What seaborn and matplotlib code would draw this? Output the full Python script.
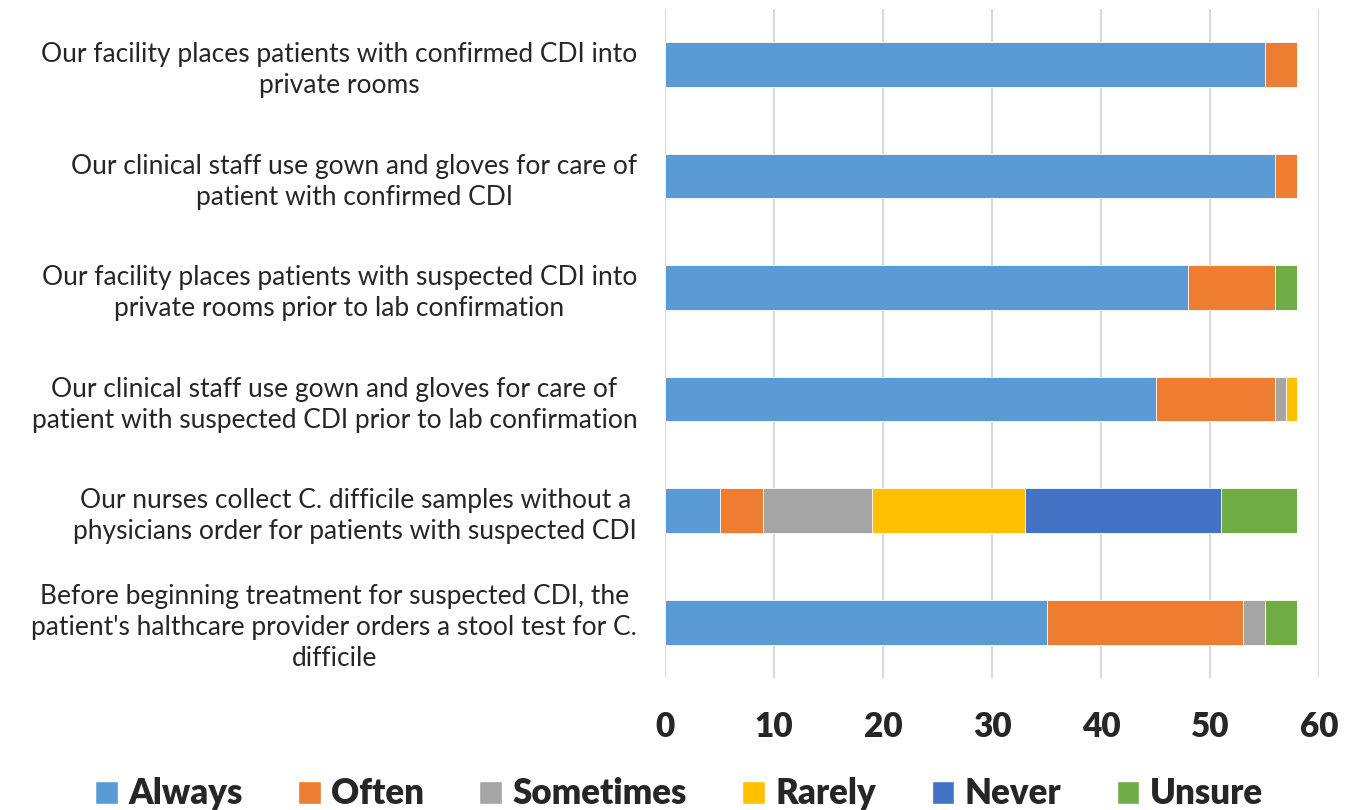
import numpy as np
import pandas as pd
import seaborn as sns
import matplotlib.pyplot as plt
from matplotlib.patches import Patch

categories = [
    "Our facility places patients with confirmed CDI into\nprivate rooms",
    "Our clinical staff use gown and gloves for care of\npatient with confirmed CDI",
    "Our facility places patients with suspected CDI into\nprivate rooms prior to lab confirmation",
    "Our clinical staff use gown and gloves for care of\npatient with suspected CDI prior to lab confirmation",
    "Our nurses collect C. difficile samples without a\nphysicians order for patients with suspected CDI",
    "Before beginning treatment for suspected CDI, the\npatient's halthcare provider orders a stool test for C.\ndifficile",
]
always = [55, 56, 48, 45, 5, 35]
often = [3, 2, 8, 11, 4, 18]
sometimes = [0, 0, 0, 1, 10, 2]
rarely = [0, 0, 0, 1, 14, 0]
never = [0, 0, 0, 0, 18, 0]
unsure = [0, 0, 2, 0, 7, 3]

series = ["Always", "Often", "Sometimes", "Rarely", "Never", "Unsure"]
colors = ["#5B9BD5", "#ED7D31", "#A5A5A5", "#FFC000", "#4472C4", "#70AD47"]

sns.set_theme(style="white")
plt.rcParams['font.family'] = ['Lato', 'DejaVu Sans']

df = pd.DataFrame({"cat": categories, "Always": always, "Often": often,
                   "Sometimes": sometimes, "Rarely": rarely, "Never": never,
                   "Unsure": unsure})
cum = df[series].cumsum(axis=1)

fig = plt.figure(figsize=(13.58, 8.10), dpi=100)
ax = fig.add_axes([0.4897, 0.163, 0.4816, 0.826])

# draw cumulative totals back to front so the segments stack
for s, c in reversed(list(zip(series, colors))):
    sns.barplot(x=cum[s], y=df["cat"], color=c, orient="h", width=0.4,
                saturation=1, edgecolor="white", linewidth=0.6, ax=ax)

ax.set_xlim(0, 60)
ax.set_xticks(range(0, 61, 10))
ax.grid(axis="x", color="#D9D9D9", linewidth=1.5)
ax.set_axisbelow(True)
for sp in ax.spines.values():
    sp.set_visible(False)
ax.set_xlabel("")
ax.set_ylabel("")
ax.tick_params(axis="x", length=0, pad=24, labelsize=24)
ax.tick_params(axis="y", length=0, pad=20, labelsize=19)
for t in ax.get_xticklabels():
    t.set_fontweight("heavy")
for t in ax.get_yticklabels():
    t.set_multialignment("center")
    t.set_linespacing(1.3)

handles = [Patch(facecolor=c, label=s) for s, c in zip(series, colors)]
fig.legend(handles=handles, loc="center", bbox_to_anchor=(0.5, 1 - 794 / 810),
           ncol=6, frameon=False, handlelength=0.65, handleheight=0.65,
           handletextpad=0.3, columnspacing=1.6,
           prop={"weight": "heavy", "size": 25})

fig.savefig("out.png", dpi=100)
